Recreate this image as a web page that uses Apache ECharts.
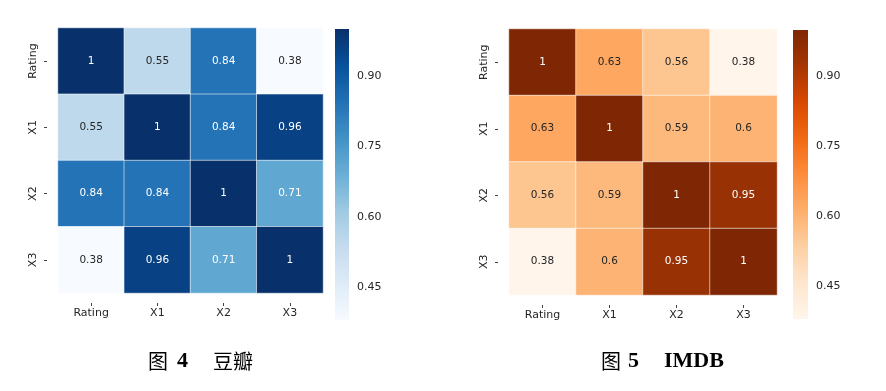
<!DOCTYPE html>
<html>
<head>
<meta charset="utf-8">
<script src="https://cdn.jsdelivr.net/npm/echarts@6/dist/echarts.min.js"></script>
<style>
html,body{margin:0;padding:0;background:#fff;}
#chart{width:886px;height:391px;}
</style>
</head>
<body>
<div id="chart"></div>
<script>
// ---- data ----
const categories = ['Rating', 'X1', 'X2', 'X3'];
const doubanValues = [
  [1, 0.55, 0.84, 0.38],
  [0.55, 1, 0.84, 0.96],
  [0.84, 0.84, 1, 0.71],
  [0.38, 0.96, 0.71, 1]
];
const imdbValues = [
  [1, 0.63, 0.56, 0.38],
  [0.63, 1, 0.59, 0.6],
  [0.56, 0.59, 1, 0.95],
  [0.38, 0.6, 0.95, 1]
];
const colorbarTicks = [0.45, 0.6, 0.75, 0.9];
const scaleMin = 0.38;
const scaleMax = 1;
const doubanCaption = ['图', '4', '豆瓣'];
const imdbCaption = ['图', '5', 'IMDB'];

// ---- styles ----
const bluesPalette = ['#f7fbff','#deebf7','#c6dbef','#9ecae1','#6baed6','#4292c6','#2171b5','#08519c','#08306b'];
const orangesPalette = ['#fff5eb','#fee6ce','#fdd0a2','#fdae6b','#fd8d3c','#f16913','#d94801','#a63603','#7f2704'];
const FONT = 'DejaVu Sans';
const TXT = '#262626';

function buildData(matrix, whiteFrom) {
  const out = [];
  matrix.forEach((row, i) => row.forEach((v, j) => {
    out.push({ value: [j, i, v], label: { color: v >= whiteFrom ? '#ffffff' : TXT } });
  }));
  return out;
}

function catX(gi) {
  return {
    type: 'category', gridIndex: gi, data: categories, position: 'bottom', offset: 10,
    axisLine: { show: false },
    axisTick: { show: true, alignWithLabel: true, length: 3, lineStyle: { color: '#444', width: 1 } },
    axisLabel: { fontFamily: FONT, fontSize: 11, color: TXT, margin: 5 },
    splitLine: { show: false }, splitArea: { show: false }
  };
}
function catY(gi) {
  return {
    type: 'category', gridIndex: gi, data: categories, inverse: true, position: 'left', offset: 11,
    axisLine: { show: false },
    axisTick: { show: true, alignWithLabel: true, length: 3, lineStyle: { color: '#444', width: 1 } },
    axisLabel: { fontFamily: FONT, fontSize: 11, color: TXT, rotate: 90, margin: 8 },
    splitLine: { show: false }, splitArea: { show: false }
  };
}
function barX(gi) {
  return { type: 'value', gridIndex: gi, min: 0, max: 1, show: false };
}
function barY(gi) {
  return {
    type: 'value', gridIndex: gi, min: scaleMin, max: scaleMax, position: 'right',
    axisLine: { show: false }, splitLine: { show: false },
    axisTick: { show: true, length: 3, customValues: colorbarTicks, lineStyle: { color: '#444' } },
    axisLabel: { customValues: colorbarTicks, formatter: v => v.toFixed(2), fontFamily: FONT, fontSize: 11, color: TXT, margin: 8 }
  };
}
function colorbarSeries(axisIdx, palette) {
  const stops = palette.map((c, k) => ({ offset: k / (palette.length - 1), color: c }));
  return {
    type: 'custom', xAxisIndex: axisIdx, yAxisIndex: axisIdx, silent: true,
    data: [[scaleMin, scaleMax]],
    renderItem: function (params, api) {
      const lo = api.value(0), hi = api.value(1);
      const pTop = api.coord([0, hi]);
      const pBot = api.coord([1, lo]);
      return {
        type: 'rect',
        shape: { x: pTop[0], y: pTop[1], width: pBot[0] - pTop[0], height: pBot[1] - pTop[1] },
        style: { fill: new echarts.graphic.LinearGradient(0, 1, 0, 0, stops) }
      };
    }
  };
}

function caption(parts, x0, xNum, xWord, wordIsLatin) {
  return [
    { type: 'text', left: x0, top: 351, style: { text: parts[0], font: '20px "Noto Sans CJK SC"', fill: '#000' } },
    { type: 'text', left: xNum, top: 350, style: { text: parts[1], font: 'bold 22px "Liberation Serif"', fill: '#000' } },
    { type: 'text', left: xWord, top: wordIsLatin ? 350 : 351, style: { text: parts[2], font: wordIsLatin ? 'bold 22px "Liberation Serif"' : '20px "Noto Sans CJK SC"', fill: '#000' } }
  ];
}

const chart = echarts.init(document.getElementById('chart'), null, { renderer: 'canvas' });
chart.setOption({
  backgroundColor: '#ffffff',
  animation: false,
  grid: [
    { left: 58, top: 28, width: 265, height: 265 },
    { left: 335, top: 29, width: 14, height: 291 },
    { left: 509, top: 29, width: 268, height: 266 },
    { left: 793, top: 30, width: 15, height: 289 }
  ],
  xAxis: [catX(0), barX(1), catX(2), barX(3)],
  yAxis: [catY(0), barY(1), catY(2), barY(3)],
  visualMap: [
    { type: 'continuous', seriesIndex: 0, min: scaleMin, max: scaleMax, inRange: { color: bluesPalette }, show: false },
    { type: 'continuous', seriesIndex: 1, min: scaleMin, max: scaleMax, inRange: { color: orangesPalette }, show: false }
  ],
  series: [
    { type: 'heatmap', xAxisIndex: 0, yAxisIndex: 0, data: buildData(doubanValues, 0.65),
      itemStyle: { borderColor: 'rgba(255,255,255,0.7)', borderWidth: 0.8 },
      label: { show: true, fontFamily: FONT, fontSize: 10.5, formatter: p => String(p.value[2]) } },
    { type: 'heatmap', xAxisIndex: 2, yAxisIndex: 2, data: buildData(imdbValues, 0.8),
      itemStyle: { borderColor: 'rgba(255,255,255,0.7)', borderWidth: 0.8 },
      label: { show: true, fontFamily: FONT, fontSize: 10.5, formatter: p => String(p.value[2]) } },
    colorbarSeries(1, bluesPalette),
    colorbarSeries(3, orangesPalette)
  ],
  graphic: [].concat(
    caption(doubanCaption, 148, 177, 213, false),
    caption(imdbCaption, 601, 628, 664, true)
  )
});
</script>
</body>
</html>
